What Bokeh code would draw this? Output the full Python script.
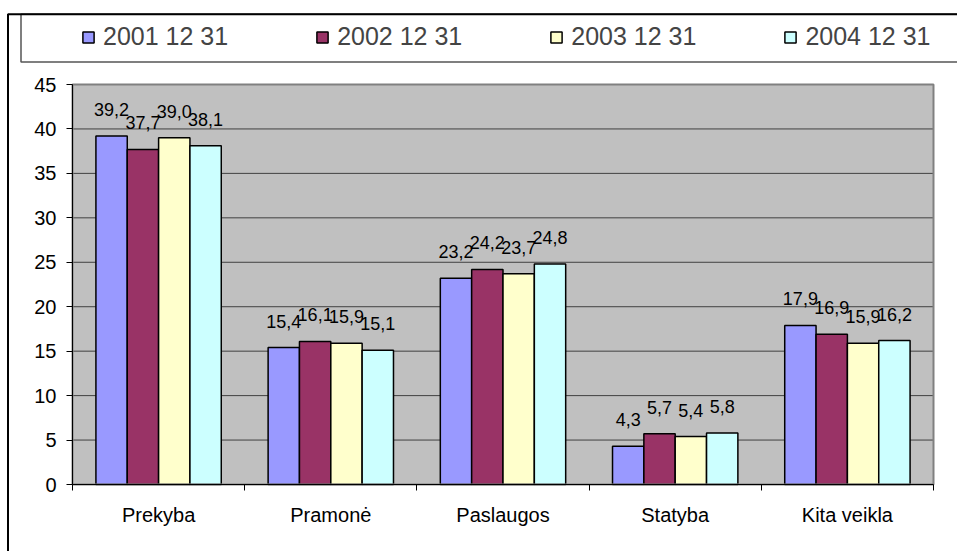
from bokeh.plotting import figure
from bokeh.models import (Range1d, FixedTicker, ColumnDataSource, LabelSet, Legend,
                          LegendItem, BoxAnnotation)
from bokeh.core.properties import value
from bokeh.embed import file_html
from bokeh.resources import INLINE

categories = ["Prekyba", "Pramonė", "Paslaugos", "Statyba", "Kita veikla"]
series_names = ["2001 12 31", "2002 12 31", "2003 12 31", "2004 12 31"]
v2001 = [39.2, 15.4, 23.2, 4.3, 17.9]
v2002 = [37.7, 16.1, 24.2, 5.7, 16.9]
v2003 = [39.0, 15.9, 23.7, 5.4, 15.9]
v2004 = [38.1, 15.1, 24.8, 5.8, 16.2]
series_values = [v2001, v2002, v2003, v2004]
colors = ["#9999FF", "#993366", "#FFFFCC", "#CCFFFF"]
y_ticks = [0, 5, 10, 15, 20, 25, 30, 35, 40, 45]

FONT = "Liberation Sans"
BAR_W = 0.182
W, H = 957, 551
# plot area in canvas pixels
PL, PR, PT, PB = 72, 933, 84, 484
N = len(categories)
YMAX = y_ticks[-1]
xpx = (PR - PL) / N
ypx = (PB - PT) / YMAX
x_start, x_end = -PL / xpx, N + (W - PR) / xpx
y_start, y_end = -(H - PB) / ypx, YMAX + PT / ypx


def xd(px):
    return (px - PL) / xpx


def yd(py):
    return (PB - py) / ypx


p = figure(width=W, height=H, x_range=Range1d(x_start, x_end), y_range=Range1d(y_start, y_end),
           output_backend="svg", toolbar_location=None, title=None,
           min_border_left=0, min_border_right=0, min_border_top=0, min_border_bottom=0)
p.background_fill_color = "white"
p.border_fill_color = "white"
p.outline_line_color = None

# axes drawn inside the canvas at fixed data locations
p.xaxis.fixed_location = 0
p.xaxis.bounds = (0, N)
p.xaxis.ticker = FixedTicker(ticks=[i + 0.5 for i in range(N)],
                             minor_ticks=list(range(N + 1)))
p.xaxis.major_label_overrides = {i + 0.5: c for i, c in enumerate(categories)}
p.xaxis.major_tick_out = 0
p.xaxis.major_tick_in = 0
p.xaxis.minor_tick_out = 6
p.xaxis.minor_tick_in = 0
p.xaxis.minor_tick_line_color = "black"
p.xaxis.axis_line_color = "black"
p.xaxis.major_label_standoff = 13
p.xaxis.major_label_text_font = FONT
p.xaxis.major_label_text_font_size = "20px"
p.xaxis.major_label_text_color = "black"

p.yaxis.fixed_location = 0
p.yaxis.bounds = (0, YMAX)
p.yaxis.ticker = FixedTicker(ticks=y_ticks)
p.yaxis.major_tick_out = 6
p.yaxis.major_tick_in = 0
p.yaxis.minor_tick_line_color = None
p.yaxis.axis_line_color = "black"
p.yaxis.major_tick_line_color = "black"
p.yaxis.major_label_standoff = 10
p.yaxis.major_label_text_font = FONT
p.yaxis.major_label_text_font_size = "20px"
p.yaxis.major_label_text_color = "black"

p.xgrid.visible = False
p.ygrid.visible = False

# plot area background and grid lines
p.quad(left=[0], right=[N], bottom=[0], top=[YMAX], fill_color="#C0C0C0", line_color=None)
p.segment(x0=[0] * len(y_ticks), x1=[N] * len(y_ticks), y0=y_ticks, y1=y_ticks,
          line_color="#404040", line_width=1)

items = []
for j, (name, vals, col) in enumerate(zip(series_names, series_values, colors)):
    xs = [i + 0.5 + (j - 1.5) * BAR_W for i in range(N)]
    labels = [f"{v:.1f}".replace(".", ",") for v in vals]
    src = ColumnDataSource(dict(x=xs, top=vals, label=labels))
    r = p.vbar(x="x", top="top", bottom=0, width=BAR_W, source=src,
               fill_color=col, line_color="black", line_width=1.5)
    items.append(LegendItem(label=name, renderers=[r]))
    p.add_layout(LabelSet(x="x", y="top", text="label", source=src,
                          text_align="center", text_baseline="alphabetic", y_offset=20,
                          text_font=value(FONT), text_font_size="18px", text_color="black"))

# plot area outline (top / right in grey)
p.quad(left=[0], right=[N], bottom=[0], top=[YMAX], fill_color=None,
       line_color="#808080", line_width=2)

legend = Legend(items=items, orientation="horizontal", location=(81, 500),
                padding=0, spacing=87, label_standoff=8, glyph_width=14, glyph_height=14,
                label_text_font=FONT, label_text_font_size="25px",
                border_line_alpha=0, background_fill_alpha=0, margin=0)
p.add_layout(legend)

outer = BoxAnnotation(left=xd(7.5), right=xd(1200), top=yd(13.75), bottom=yd(900),
                      fill_color=None, fill_alpha=0, line_color="black", line_alpha=1,
                      line_width=2, level="overlay")
legbox = BoxAnnotation(left=xd(20.5), right=xd(1200), top=yd(13.75), bottom=yd(61.5),
                       fill_color=None, fill_alpha=0, line_color="#555555", line_alpha=1,
                       line_width=1.5, level="overlay")
p.add_layout(legbox)
p.add_layout(outer)

open("out.html", "w").write(file_html(p, INLINE))
